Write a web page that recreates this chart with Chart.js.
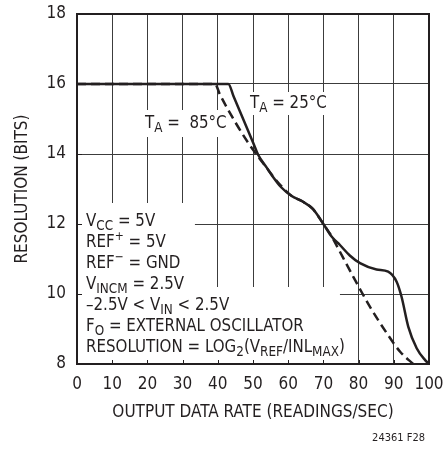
<!DOCTYPE html>
<html>
<head>
<meta charset="utf-8">
<script src="https://cdn.jsdelivr.net/npm/chart.js@4.4.1/dist/chart.umd.min.js"></script>
<style>
    html, body { margin: 0; padding: 0; background: #fff; }
    #wrap { width: 443px; height: 451px; }
</style>
</head>
<body>
<div id="wrap"><canvas id="chart" width="443" height="451"></canvas></div>
<script>
// T_A = 25°C (solid)
const rate25 = [0, 43, 44.5, 47.5, 50.1, 51.5, 53.9, 55.3, 58, 61, 64, 67, 70, 72.5, 74.7, 77.5, 80.4, 85.1, 88.4, 90.8, 92.2, 94.1, 96.5, 98.9, 100];
const bits25 = [16, 16, 15.64, 14.93, 14.31, 13.97, 13.61, 13.4, 13.05, 12.8, 12.65, 12.43, 12.0, 11.62, 11.4, 11.1, 10.88, 10.7, 10.64, 10.35, 9.92, 9.07, 8.45, 8.11, 8.0];

// T_A = 85°C (dashed)
const rate85 = [0, 39.2, 40.6, 44.9, 48.7, 51.5, 53.9, 57, 61, 64, 67, 70, 72.5, 74.2, 78.5, 83.2, 88, 91.8, 95.5];
const bits85 = [16, 16, 15.7, 14.92, 14.31, 13.92, 13.6, 13.2, 12.8, 12.65, 12.43, 12.0, 11.62, 11.3, 10.49, 9.64, 8.88, 8.35, 8.0];

const xTicks = [0, 10, 20, 30, 40, 50, 60, 70, 80, 90, 100];
const yTicks = [8, 10, 12, 14, 16, 18];

const FONT = '"Liberation Sans Narrow", "DejaVu Sans Condensed", "Liberation Sans", sans-serif';
const INK = '#231f20';

// text lines of the condition block, each a list of [text, kind]
const conditions = [
    [['V', 'n'], ['CC', 'sub'], [' = 5V', 'n']],
    [['REF', 'n'], ['+', 'sup'], [' = 5V', 'n']],
    [['REF', 'n'], ['\u2212', 'sup'], [' = GND', 'n']],
    [['V', 'n'], ['INCM', 'sub'], [' = 2.5V', 'n']],
    [['\u20132.5V < V', 'n'], ['IN', 'sub'], [' < 2.5V', 'n']],
    [['F', 'n'], ['O', 'sub'], [' = EXTERNAL OSCILLATOR', 'n']],
    [['RESOLUTION = LOG', 'n'], ['2', 'sub'], ['(V', 'n'], ['REF', 'sub'], ['/INL', 'n'], ['MAX', 'sub'], [')', 'n']]
];
const label25 = [['T', 'n'], ['A', 'sub'], [' = 25\u00b0C', 'n']];
const label85 = [['T', 'n'], ['A', 'sub'], [' =  85\u00b0C', 'n']];

function toPoints(xs, ys) {
    return xs.map((v, i) => ({x: v, y: ys[i]}));
}

// draws a line of text with sub/superscripts, squeezed a little horizontally
function drawRuns(ctx, runs, x, base, size) {
    const squeeze = 0.93;
    ctx.save();
    ctx.translate(x, base);
    ctx.scale(squeeze, 1);
    ctx.textBaseline = 'alphabetic';
    ctx.textAlign = 'left';
    let cx = 0;
    for (const [t, kind] of runs) {
        let fs = size, dy = 0;
        if (kind === 'sub') { fs = size * 0.8; dy = 4; }
        if (kind === 'sup') { fs = size * 0.72; dy = -7; }
        ctx.font = fs + 'px ' + FONT;
        ctx.fillText(t, cx, dy);
        cx += ctx.measureText(t).width;
    }
    ctx.restore();
}

const notesPlugin = {
    id: 'notes',
    beforeDatasetsDraw(chart) {
        const {ctx, chartArea: a, scales: {x, y}} = chart;
        ctx.save();
        ctx.fillStyle = '#fff';
        // white panels behind the condition text
        ctx.fillRect(a.left, y.getPixelForValue(12.6), x.getPixelForValue(33.5) - a.left, a.bottom - y.getPixelForValue(12.6));
        ctx.fillRect(a.left, y.getPixelForValue(10.2), x.getPixelForValue(74.7) - a.left, a.bottom - y.getPixelForValue(10.2));
        // panels behind curve labels
        ctx.fillRect(140, 110, 86, 27);
        ctx.fillRect(247, 92, 79, 23);
        // inner tick marks
        ctx.strokeStyle = INK;
        ctx.lineWidth = 1;
        ctx.beginPath();
        xTicks.forEach(v => {
            const px = Math.round(x.getPixelForValue(v)) + 0.5;
            ctx.moveTo(px, a.bottom);
            ctx.lineTo(px, a.bottom - 4);
        });
        yTicks.forEach(v => {
            const py = Math.round(y.getPixelForValue(v)) + 0.5;
            ctx.moveTo(a.left, py);
            ctx.lineTo(a.left + 5, py);
        });
        ctx.stroke();
        ctx.restore();
    },
    afterDatasetsDraw(chart) {
        const {ctx, chartArea: a} = chart;
        ctx.save();
        ctx.strokeStyle = INK;
        ctx.lineWidth = 2;
        ctx.strokeRect(a.left, a.top, a.right - a.left, a.bottom - a.top);

        ctx.fillStyle = INK;
        conditions.forEach((runs, i) => drawRuns(ctx, runs, 86, 226 + 21 * i, 18));
        drawRuns(ctx, label85, 145, 128, 18);
        drawRuns(ctx, label25, 250, 108, 18);

        ctx.font = '11px ' + FONT;
        ctx.textAlign = 'right';
        ctx.fillText('24361 F28', 425, 441);
        ctx.restore();
    }
};

new Chart(document.getElementById('chart'), {
    type: 'line',
    data: {
        datasets: [
            {
                label: 'TA = 25°C',
                data: toPoints(rate25, bits25),
                borderColor: INK,
                borderWidth: 2.5,
                cubicInterpolationMode: 'monotone',
                pointRadius: 0,
                fill: false
            },
            {
                label: 'TA = 85°C',
                data: toPoints(rate85, bits85),
                borderColor: INK,
                borderWidth: 2.5,
                borderDash: [9, 5],
                cubicInterpolationMode: 'monotone',
                pointRadius: 0,
                fill: false
            }
        ]
    },
    options: {
        responsive: false,
        animation: false,
        layout: {padding: {left: 0, right: 14, top: 14, bottom: 0}},
        plugins: {
            legend: {display: false},
            tooltip: {enabled: false}
        },
        scales: {
            x: {
                type: 'linear',
                min: 0,
                max: 100,
                afterBuildTicks: (scale) => { scale.ticks = xTicks.map(v => ({value: v})); },
                afterFit: (scale) => {
                    scale.height = 87;
                    scale.paddingLeft = 0;
                    scale.paddingRight = 0;
                },
                grid: {color: '#3c3c3c', lineWidth: 1, drawTicks: false},
                border: {display: false},
                ticks: {color: INK, font: {family: FONT, size: 17}, padding: 10, maxRotation: 0},
                title: {display: true, text: 'OUTPUT DATA RATE (READINGS/SEC)', color: INK,
                    font: {family: FONT, size: 17}, padding: {top: 0, bottom: 28}}
            },
            y: {
                min: 8,
                max: 18,
                afterBuildTicks: (scale) => { scale.ticks = yTicks.map(v => ({value: v})); },
                afterFit: (scale) => {
                    scale.width = 77;
                    scale.paddingTop = 0;
                    scale.paddingBottom = 0;
                },
                grid: {color: '#3c3c3c', lineWidth: 1, drawTicks: false},
                border: {display: false},
                ticks: {color: INK, font: {family: FONT, size: 17}, padding: 11},
                title: {display: true, text: 'RESOLUTION (BITS)', color: INK,
                    font: {family: FONT, size: 17}, padding: {top: 12, bottom: 0}}
            }
        }
    },
    plugins: [notesPlugin]
});
</script>
</body>
</html>
